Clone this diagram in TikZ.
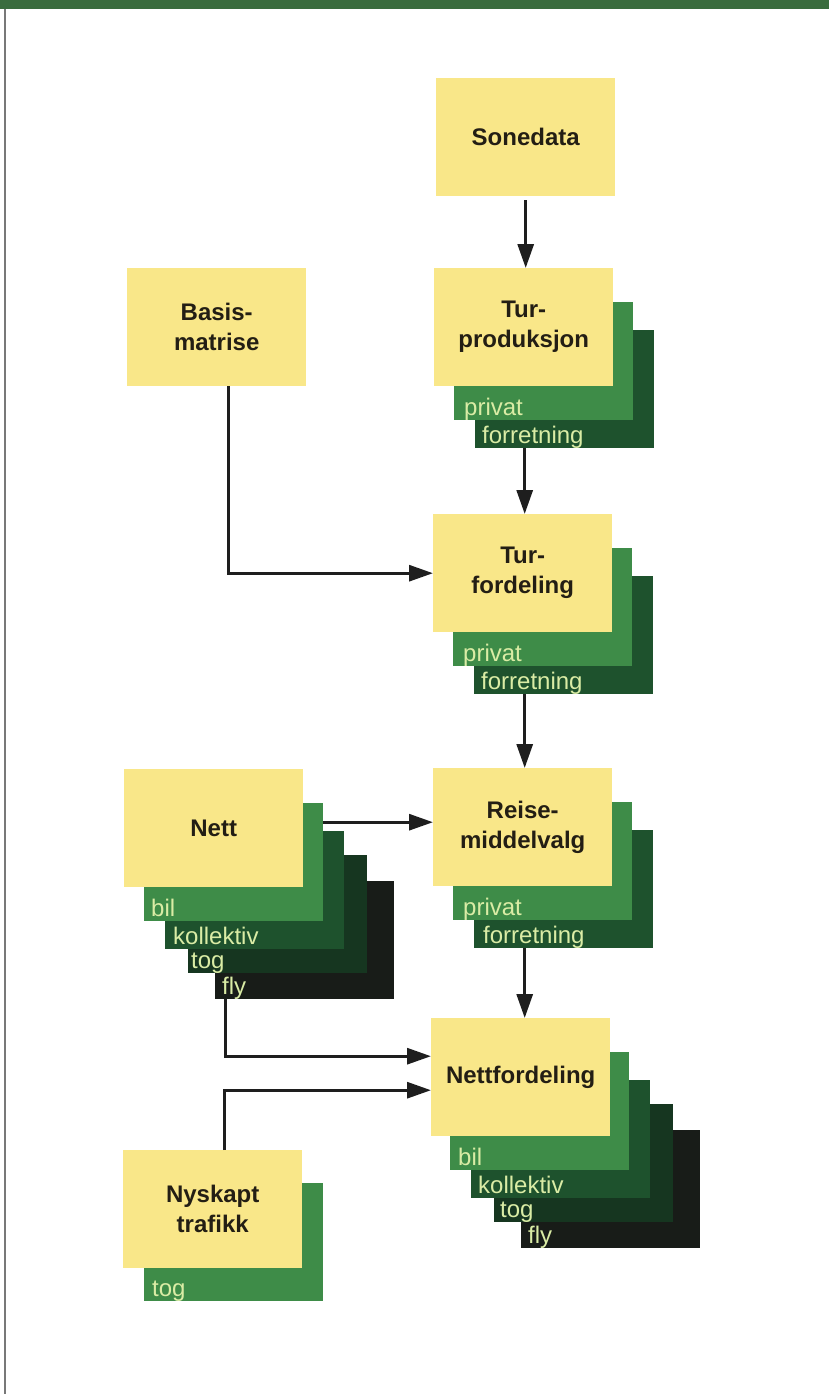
\documentclass[tikz,border=0pt]{standalone}
\usepackage{fontspec}
\setmainfont{Liberation Sans}
\usetikzlibrary{arrows.meta}
\definecolor{yel}{RGB}{249,231,137}
\definecolor{gA}{RGB}{62,140,72}
\definecolor{gB}{RGB}{30,82,45}
\definecolor{gC}{RGB}{22,54,32}
\definecolor{gD}{RGB}{24,28,24}
\definecolor{txt}{RGB}{35,30,20}
\definecolor{labc}{RGB}{218,236,165}
\definecolor{arrc}{RGB}{30,30,30}
\definecolor{barc}{RGB}{58,108,62}
\definecolor{edgec}{RGB}{120,120,120}
\begin{document}
\begin{tikzpicture}[x=1pt,y=-1pt,
  box/.style={draw=none, minimum width=179pt, minimum height=118pt, inner sep=0pt, anchor=north west},
  yb/.style={box, fill=yel, font=\bfseries\fontsize{24}{30}\selectfont, text=txt, align=center},
  ga/.style={box, fill=gA}, gb/.style={box, fill=gB}, gc/.style={box, fill=gC}, gd/.style={box, fill=gD},
  lab/.style={anchor=base west, inner sep=0pt, text=labc, font=\fontsize{24}{28}\selectfont},
  arr/.style={line width=3pt, draw=arrc, -{Triangle[length=24pt,width=16pt]}}]
\useasboundingbox (0,0) rectangle (829,1394);
\fill[white] (0,0) rectangle (829,1394);
\fill[barc] (0,0) rectangle (829,9);
\draw[edgec, line width=1.5pt] (5,9) -- (5,1394);

% Sonedata
\node[yb] (sone) at (436,78) {Sonedata};
% Basismatrise
\node[yb] (basis) at (127,268) {Basis-\\matrise};

% Turproduksjon
\node[gb] (tp2) at (475,330) {};
\node[ga] (tp1) at (454,302) {};
\node[yb] (tp) at (434,268) {Tur-\\produksjon};
\node[lab] (tpl1) at ([xshift=10pt,yshift=5pt]tp1.south west) {privat};
\node[lab] (tpl2) at ([xshift=7pt,yshift=5pt]tp2.south west) {forretning};

% Turfordeling
\node[gb] (tf2) at (474,576) {};
\node[ga] (tf1) at (453,548) {};
\node[yb] (tf) at (433,514) {Tur-\\fordeling};
\node[lab] (tfl1) at ([xshift=10pt,yshift=5pt]tf1.south west) {privat};
\node[lab] (tfl2) at ([xshift=7pt,yshift=5pt]tf2.south west) {forretning};

% Reisemiddelvalg
\node[gb] (rm2) at (474,830) {};
\node[ga] (rm1) at (453,802) {};
\node[yb] (rm) at (433,768) {Reise-\\middelvalg};
\node[lab] (rml1) at ([xshift=10pt,yshift=5pt]rm1.south west) {privat};
\node[lab] (rml2) at ([xshift=9pt,yshift=5pt]rm2.south west) {forretning};

% Nett
\node[gd] (n4) at (215,881) {};
\node[gc] (n3) at (188,855) {};
\node[gb] (n2) at (165,831) {};
\node[ga] (n1) at (144,803) {};
\node[yb] (nett) at (124,769) {Nett};
\node[lab] (nl1) at ([xshift=7pt,yshift=5pt]n1.south west) {bil};
\node[lab] (nl2) at ([xshift=8pt,yshift=5pt]n2.south west) {kollektiv};
\node[lab] (nl3) at ([xshift=3pt,yshift=5pt]n3.south west) {tog};
\node[lab] (nl4) at ([xshift=7pt,yshift=5pt]n4.south west) {fly};

% Nettfordeling
\node[gd] (f4) at (521,1130) {};
\node[gc] (f3) at (494,1104) {};
\node[gb] (f2) at (471,1080) {};
\node[ga] (f1) at (450,1052) {};
\node[yb] (nf) at (431,1018) {Nettfordeling};
\node[lab] (fl1) at ([xshift=8pt,yshift=5pt]f1.south west) {bil};
\node[lab] (fl2) at ([xshift=7pt,yshift=5pt]f2.south west) {kollektiv};
\node[lab] (fl3) at ([xshift=6pt,yshift=5pt]f3.south west) {tog};
\node[lab] (fl4) at ([xshift=7pt,yshift=5pt]f4.south west) {fly};

% Nyskapt trafikk
\node[ga] (ny1) at (144,1183) {};
\node[yb] (ny) at (123,1150) {Nyskapt\\trafikk};
\node[lab] (nyl1) at ([xshift=8pt,yshift=5pt]ny1.south west) {tog};

% connectors
\coordinate (s0) at ([yshift=-4pt]sone.south);
\draw[arr] (s0) -- (s0 |- tp.north);
\coordinate (s1) at ([xshift=1pt]tp.south |- tp2.south);
\draw[arr] (s1) -- (s1 |- tf.north);
\coordinate (s2) at ([xshift=2pt]tf.south |- tf2.south);
\draw[arr] (s2) -- (s2 |- rm.north);
\coordinate (s3) at ([xshift=2pt]rm.south |- rm2.south);
\draw[arr] (s3) -- (s3 |- nf.north);
\draw[arr] ([xshift=12pt]basis.south) |- (tf.west);
\coordinate (rmin) at ([yshift=5pt]rm.west);
\draw[arr] (n1.east |- rmin) -- (rmin);
\coordinate (nfa) at ([yshift=21pt]nf.west);
\coordinate (nfb) at ([yshift=-13pt]nf.west);
\coordinate (nout) at ([xshift=10pt]n4.south west);
\coordinate (yout) at ([xshift=101pt]ny.north west);
\draw[arr] (nout) |- (nfa);
\draw[arr] (yout) |- (nfb);
\end{tikzpicture}
\end{document}
